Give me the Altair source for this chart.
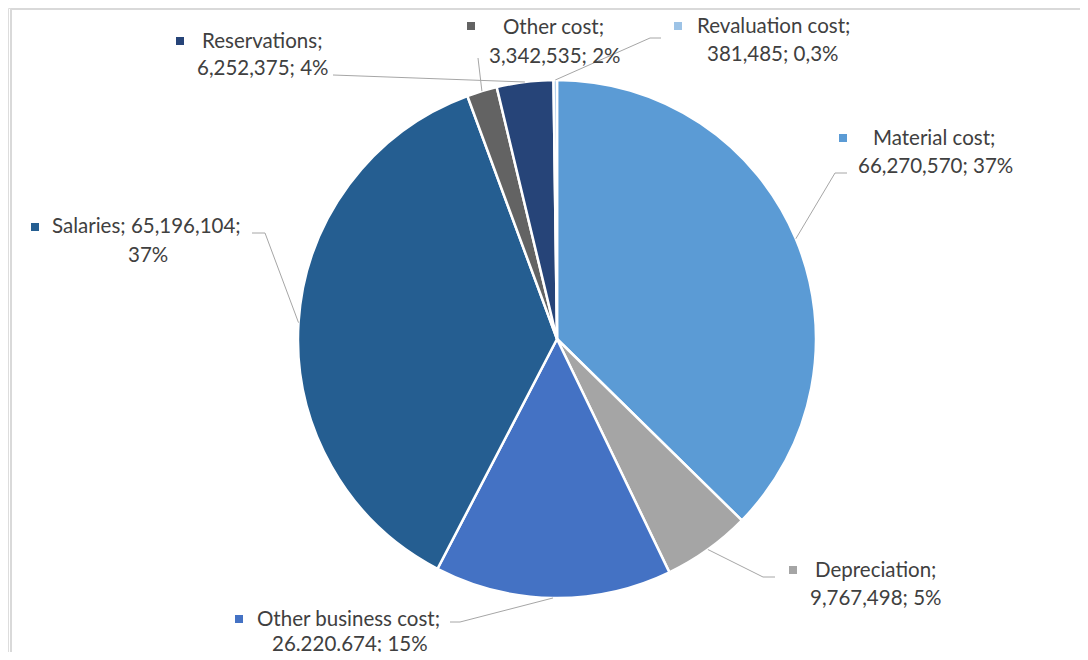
import altair as alt
import pandas as pd
import numpy as np

# ---- data ----
categories = ["Material cost", "Depreciation", "Other business cost", "Salaries",
              "Other cost", "Reservations", "Revaluation cost"]
values = [66270570, 9767498, 26220674, 65196104, 3342535, 6252375, 381485]
label_line1 = ["Material cost;", "Depreciation;", "Other business cost;", "Salaries; 65,196,104;",
               "Other cost;", "Reservations;", "Revaluation cost;"]
label_line2 = ["66,270,570; 37%", "9,767,498; 5%", "26.220.674; 15%", "37%",
               "3,342,535; 2%", "6,252,375; 4%", "381,485; 0,3%"]
colors = ["#5B9BD5", "#A5A5A5", "#4472C4", "#255E91", "#636363", "#264478", "#9DC3E6"]

# ---- layout (view pixel coordinates = image - 8) ----
OFF = 8
CX, CY, R = 557 - OFF, 339 - OFF, 259
# marker (mx,my), line1 start (x1,y1), line2 start (x2,y2), leader elbow (ex,ey), leader end x (hx)
layout = {
    "Material cost":       dict(mx=843, my=138, x1=873, y1=139, x2=858, y2=167, ex=835, ey=173, hx=847),
    "Depreciation":        dict(mx=793, my=570, x1=815, y1=571, x2=810, y2=599, ex=763, ey=577, hx=775),
    "Other business cost": dict(mx=239, my=619, x1=257, y1=620, x2=272, y2=645, ex=460, ey=622, hx=450),
    "Salaries":            dict(mx=35, my=227, x1=52, y1=227, x2=128, y2=256, ex=265, ey=233, hx=252),
    "Other cost":          dict(mx=471, my=26, x1=503, y1=28, x2=489, y2=57, ex=478, ey=58, hx=478),
    "Reservations":        dict(mx=180, my=41, x1=202, y1=42, x2=197, y2=69, ex=333, ey=75, hx=333),
    "Revaluation cost":    dict(mx=678, my=26, x1=697, y1=27, x2=707, y2=55, ex=650, ey=38, hx=661),
}

df = pd.DataFrame({"category": categories, "value": values, "idx": range(len(categories))})
total = df["value"].sum()
cum = df["value"].cumsum() - df["value"] / 2
df["mid"] = cum / total * 2 * np.pi

lines, texts, marks = [], [], []
for i, row in df.iterrows():
    L = layout[row["category"]]
    sx = CX + R * np.sin(row["mid"])
    sy = CY - R * np.cos(row["mid"])
    pts = [(sx, sy), (L["ex"] - OFF, L["ey"] - OFF), (L["hx"] - OFF, L["ey"] - OFF)]
    for k, (px, py) in enumerate(pts):
        lines.append({"seg": row["category"], "k": k, "x": px, "y": py})
    texts.append({"x": L["x1"] - OFF, "y": L["y1"] - OFF, "text": label_line1[i]})
    texts.append({"x": L["x2"] - OFF, "y": L["y2"] - OFF, "text": label_line2[i]})
    marks.append({"x": L["mx"] - OFF, "y": L["my"] - OFF, "category": row["category"]})

lines_df = pd.DataFrame(lines)
texts_df = pd.DataFrame(texts)
marks_df = pd.DataFrame(marks)

color_scale = alt.Scale(domain=categories, range=colors)

pie = alt.Chart(df).mark_arc(outerRadius=R, stroke="white", strokeWidth=2.5).encode(
    theta=alt.Theta("value:Q", stack=True),
    order=alt.Order("idx:Q"),
    color=alt.Color("category:N", scale=color_scale, legend=None),
    x=alt.value(CX),
    y=alt.value(CY),
)

leaders = alt.Chart(lines_df).mark_line(color="#a6a6a6", strokeWidth=1).encode(
    x=alt.X("x:Q", scale=None),
    y=alt.Y("y:Q", scale=None),
    detail="seg:N",
    order="k:Q",
)

label_text = alt.Chart(texts_df).mark_text(
    align="left", baseline="middle", font="Lato", fontSize=20.5, color="#404040"
).encode(
    x=alt.X("x:Q", scale=None),
    y=alt.Y("y:Q", scale=None),
    text="text:N",
)

markers = alt.Chart(marks_df).mark_square(size=64, opacity=1).encode(
    x=alt.X("x:Q", scale=None),
    y=alt.Y("y:Q", scale=None),
    color=alt.Color("category:N", scale=color_scale, legend=None),
)

frame_top = alt.Chart(pd.DataFrame({"a": [0]})).mark_rule(color="#d9d9d9", strokeWidth=2).encode(
    x=alt.value(3), x2=alt.value(1100), y=alt.value(1)
)
frame_left = alt.Chart(pd.DataFrame({"a": [0]})).mark_rule(color="#d9d9d9", strokeWidth=2).encode(
    x=alt.value(3), y=alt.value(1), y2=alt.value(700)
)

chart = alt.layer(frame_top, frame_left, pie, leaders, markers, label_text).properties(
    width=1072, height=644, padding=0, autosize=alt.AutoSizeParams(type="none")
).configure_view(stroke=None).configure(background="white")

chart.save("out.html", embed_options={"renderer": "svg", "actions": False})
